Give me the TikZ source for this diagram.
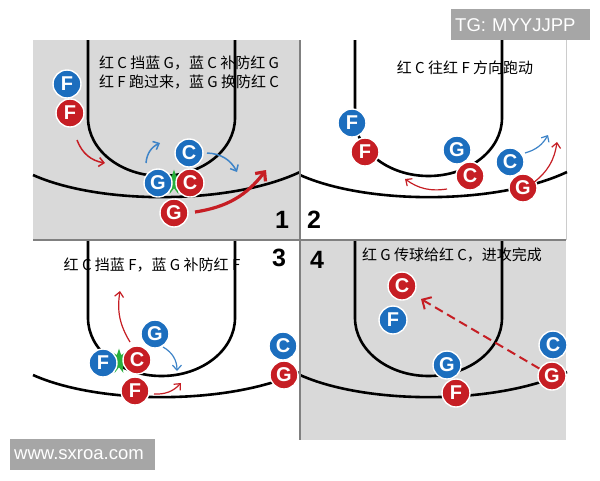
\documentclass[tikz,border=0pt]{standalone}
\usepackage{fontspec}
\setmainfont{Liberation Sans}
\newfontfamily\cjk{Noto Sans CJK SC}
\usetikzlibrary{arrows.meta,shapes.geometric}
\definecolor{rd}{RGB}{198,30,36}
\definecolor{bl}{RGB}{28,110,190}
\definecolor{bgg}{RGB}{217,217,217}
\definecolor{dv}{RGB}{128,128,128}
\definecolor{wmg}{RGB}{166,166,166}
\definecolor{gr}{RGB}{40,175,60}
\begin{document}
\begin{tikzpicture}[x=1pt,y=-1pt,
  court/.style={line width=2.6pt,black},
  divline/.style={line width=1.6pt,dv},
  player/.style={circle,draw=white,line width=1.4pt,minimum size=28pt,inner sep=0pt,text=white,font=\fontsize{20}{20}\selectfont\bfseries},
  rp/.style={player,fill=rd},
  bp/.style={player,fill=bl},
  burst/.style={star,star points=9,star point ratio=2.0,fill=gr,minimum size=25pt,inner sep=0pt},
  rarr/.style={rd,line width=1.5pt,-{Straight Barb[length=5pt,width=9pt]}},
  barr/.style={bl!85!white,line width=1.5pt,-{Straight Barb[length=5pt,width=9pt]}},
  bigarr/.style={rd,line width=3.2pt,-{Straight Barb[length=7pt,width=13pt]}},
  passarr/.style={rd,line width=2pt,dash pattern=on 9pt off 5pt,-{Straight Barb[length=7pt,width=14pt]}},
  note/.style={font=\cjk\fontsize{15}{19}\selectfont,align=center,inner sep=0pt},
  num/.style={font=\fontsize{25}{25}\selectfont\bfseries,inner sep=0pt},
  wm/.style={fill=wmg,text=white,font=\fontsize{18.5}{18.5}\selectfont,inner xsep=4pt,inner ysep=0pt,minimum height=31pt,anchor=north west}
]
\useasboundingbox (0,0) rectangle (600,480);
\fill[white] (0,0) rectangle (600,480);
% panel backgrounds
\fill[bgg] (33,40) rectangle (300,240);
\fill[bgg] (300,240) rectangle (566,440);
\draw[line width=0.8pt,black!20] (566,40) -- (566,240);
% courts
\foreach \dx/\dy in {0/0,267/0,0/200,267/200}{
  \begin{scope}[shift={(\dx,\dy)}]
    \draw[court] (88,40) -- (88,118) .. controls (88,150) and (120.9,176) .. (161.5,176)
      .. controls (202.1,176) and (235,150) .. (235,118) -- (235,40);
    \draw[court] (33,175) .. controls (100,205) and (230,205) .. (300,172);
  \end{scope}
}
% dividers
\draw[divline] (300,40) -- (300,440);
\draw[divline] (33,240) -- (566,240);

% ---------- panel 1 ----------
\node[note] (t1) at (189,72.5) {红 C 挡蓝 G，蓝 C 补防红 G\\红 F 跑过来，蓝 G 换防红 C};
\node[burst] (s1) at (174,182) {};
\node[bp] (p1bF) at (67,84) {F};
\node[rp] (p1rF) at (70,113) {F};
\node[bp] (p1bC) at (189,153) {C};
\node[bp] (p1bG) at (158,183) {G};
\node[rp] (p1rC) at (190,183) {C};
\node[rp] (p1rG) at (174,213) {G};
\node[num] (n1) at (282,220) {1};
\coordinate (a1s) at (77,140); \coordinate (a1e) at (105,163);
\draw[rarr] (a1s) to[bend right=30] (a1e);
\coordinate (b1s) at (146,163); \coordinate (b1e) at (160,143);
\draw[barr] (b1s) to[bend left=30] (b1e);
\coordinate (c1s) at (207,153); \coordinate (c1e) at (237,172);
\draw[barr] (c1s) to[bend left=30] (c1e);
\coordinate (d1s) at (195,212); \coordinate (d1e) at (266,170);
\draw[bigarr] (d1s) to[bend right=22] (d1e);

% ---------- panel 2 ----------
\node[note] (t2) at (465,68) {红 C 往红 F 方向跑动};
\node[bp] (p2bF) at (352,123) {F};
\node[rp] (p2rF) at (365,152) {F};
\node[bp] (p2bG) at (457,150) {G};
\node[rp] (p2rC) at (470,176) {C};
\node[bp] (p2bC) at (510,162) {C};
\node[rp] (p2rG) at (523,188) {G};
\node[num] (n2) at (314,220) {2};
\coordinate (a2s) at (447,189); \coordinate (a2e) at (405,179);
\draw[rarr,line width=1.2pt] (a2s) to[bend left=22] (a2e);
\coordinate (b2s) at (525,153); \coordinate (b2e) at (548,135);
\draw[barr,line width=1.2pt] (b2s) to[bend right=22] (b2e);
\coordinate (c2s) at (533,183); \coordinate (c2e) at (557,142);
\draw[rarr,line width=1.2pt] (c2s) to[bend right=22] (c2e);

% ---------- panel 3 ----------
\node[note] (t3) at (152,265) {红 C 挡蓝 F，蓝 G 补防红 F};
\node[num] (n3) at (279,258) {3};
\node[burst] (s3) at (119,361) {};
\node[bp] (p3bG) at (155,334) {G};
\node[bp] (p3bF) at (103,363) {F};
\node[rp] (p3rC) at (137,360) {C};
\node[rp] (p3rF) at (135,391) {F};
\node[bp] (p3bC) at (283,346) {C};
\node[rp] (p3rG) at (284,375) {G};
\coordinate (a3s) at (130,342); \coordinate (a3e) at (120,291);
\draw[rarr,line width=1.2pt] (a3s) to[bend left=20] (a3e);
\coordinate (b3s) at (163,347); \coordinate (b3e) at (177,371);
\draw[barr,line width=1.2pt] (b3s) to[bend left=30] (b3e);
\coordinate (c3s) at (154,394); \coordinate (c3e) at (181,383);
\draw[rarr,line width=1.2pt] (c3s) to[bend right=25] (c3e);

% ---------- panel 4 ----------
\node[num] (n4) at (317,260) {4};
\node[note] (t4) at (452,255) {红 G 传球给红 C，进攻完成};
\node[rp] (p4rC) at (402,286) {C};
\node[bp] (p4bF) at (393,320) {F};
\node[bp] (p4bG) at (447,365) {G};
\node[rp] (p4rF) at (456,393) {F};
\node[bp] (p4bC) at (553,345) {C};
\node[rp] (p4rG) at (552,376) {G};
\coordinate (a4e) at (421,299);
\draw[passarr] (p4rG) -- (a4e);

% ---------- watermarks ----------
\node[wm,minimum width=139pt,text width=131pt,align=left] (w1) at (451,9) {TG: MYYJJPP};
\node[wm,minimum width=145pt,text width=137pt,align=left] (w2) at (10,439) {www.sxroa.com};
\end{tikzpicture}
\end{document}
